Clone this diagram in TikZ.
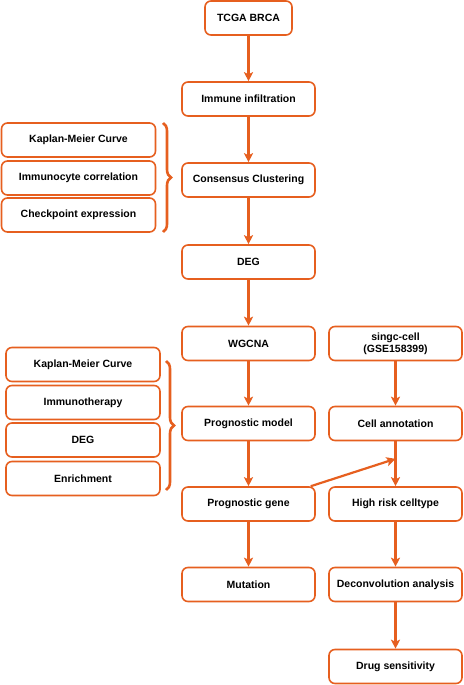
\documentclass[tikz,border=0pt]{standalone}
\usepackage{fontspec}
\setmainfont{Liberation Sans}
\usetikzlibrary{arrows.meta,decorations.pathreplacing,calc}
\definecolor{org}{HTML}{E65F1F}
\begin{document}
\begin{tikzpicture}[x=1pt,y=-1pt,
  box/.style={draw=org,line width=1.6pt,rounded corners=6pt,fill=white,
    minimum height=34pt,minimum width=133pt,inner sep=1pt,align=center,
    font=\fontsize{10.5}{12}\selectfont\bfseries},
  lbox/.style={box,minimum width=154pt},
  arr/.style={draw=org,line width=2.2pt,-{Stealth[length=9pt,width=9pt,inset=2pt]}},
  brc/.style={draw=org,line width=2.6pt,decorate,decoration={brace,amplitude=8pt}}]
\useasboundingbox (0,0) rectangle (463,685);
% main column
\node[box,minimum width=87pt] (tcga) at (248.5,18) {TCGA BRCA};
\node[box] (imm) at (248.5,99) {Immune infiltration};
\node[box] (cc) at (248.5,180) {Consensus Clustering};
\node[box] (deg) at (248.5,262) {DEG};
\node[box] (wg) at (248.5,343.5) {WGCNA};
\node[box] (pm) at (248.5,423.5) {Prognostic model};
\node[box] (pg) at (248.5,504) {Prognostic gene};
\node[box] (mu) at (248.5,584.5) {Mutation};
% right column
\node[box] (sc) at (395.5,343.5) {singc-cell\\(GSE158399)};
\node[box] (ca) at (395.5,423.5) {Cell annotation};
\node[box] (hr) at (395.5,504) {High risk celltype};
\node[box] (dc) at (395.5,584.5) {Deconvolution analysis};
\node[box] (ds) at (395.5,666.5) {Drug sensitivity};
% left group 1
\node[lbox] (k1) at (78.5,140) {Kaplan-Meier Curve};
\node[lbox] (ic) at (78.5,178) {Immunocyte correlation};
\node[lbox] (ce) at (78.5,215) {Checkpoint expression};
% left group 2
\node[lbox] (k2) at (83,364.5) {Kaplan-Meier Curve};
\node[lbox] (it) at (83,402.5) {Immunotherapy};
\node[lbox] (d2) at (83,440) {DEG};
\node[lbox] (en) at (83,478.5) {Enrichment};
% braces
\coordinate (b1t) at (163,123);
\coordinate (b1b) at (163,232);
\draw[brc] (b1t) -- (b1b);
\coordinate (b2t) at (166,361);
\coordinate (b2b) at (166,490);
\draw[brc] (b2t) -- (b2b);
% arrows
\draw[arr] (tcga) -- (imm);
\draw[arr] (imm) -- (cc);
\draw[arr] (cc) -- (deg);
\draw[arr] (deg) -- (wg);
\draw[arr] (wg) -- (pm);
\draw[arr] (pm) -- (pg);
\draw[arr] (pg) -- (mu);
\draw[arr] (sc) -- (ca);
\draw[arr] (ca) -- (hr);
\draw[arr] (hr) -- (dc);
\draw[arr] (dc) -- (ds);
\coordinate (mid) at ($(ca.south)!0.39!(hr.north)$);
\coordinate (pgs) at ($(pg.north east)+(-5,0)$);
\draw[arr] (pgs) -- (mid);
\end{tikzpicture}
\end{document}
